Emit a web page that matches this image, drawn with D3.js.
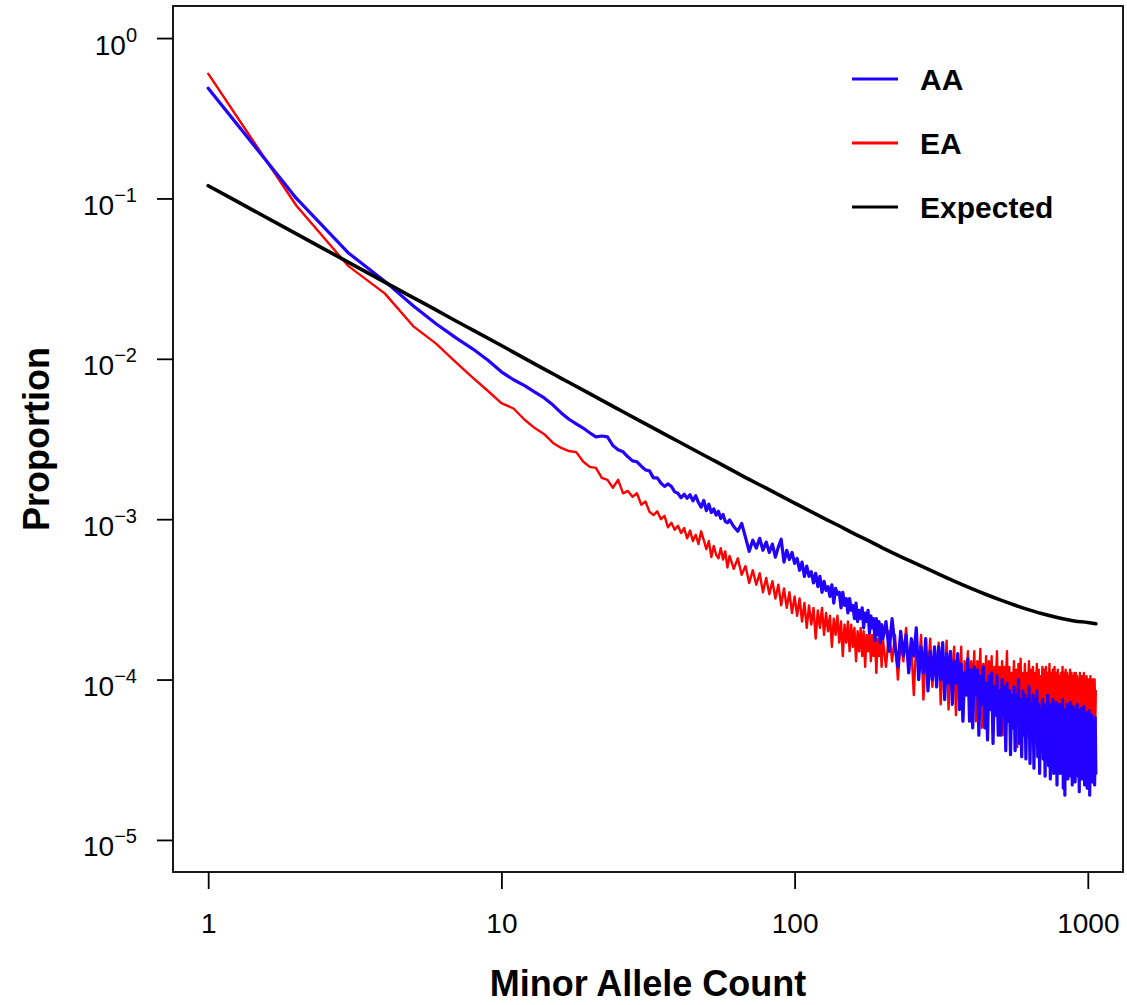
<!DOCTYPE html>
<html>
<head>
<meta charset="utf-8">
<script src="https://cdn.jsdelivr.net/npm/d3@7"></script>
<style>
  body { margin: 0; background: #fff; }
  text { font-family: "Liberation Sans", Arial, Helvetica, sans-serif; }
</style>
</head>
<body>
<div id="chart"></div>
<script>
// minor allele counts: every count to 60, then every 2nd to 200, then every 5th
const counts = [].concat(d3.range(1, 61), d3.range(62, 201, 2), d3.range(205, 1066, 5));

// AA proportions
const aaLow = [0.487, 0.1, 0.0459, 0.0305, 0.0214, 0.0165, 0.0135, 0.0115, 0.0098, 0.0083,
  0.0074, 0.0068, 0.0062, 0.0057, 0.00515, 0.0046, 0.0042, 0.00393, 0.0037, 0.00346,
  0.00326, 0.0033, 0.00326, 0.00288, 0.00271, 0.00263, 0.00245, 0.00231, 0.00228, 0.00214,
  0.00203, 0.002, 0.00181, 0.00181, 0.00168, 0.0016, 0.00166, 0.0016, 0.00148, 0.00145,
  0.00136, 0.00143, 0.00135, 0.00142, 0.0013, 0.0014, 0.00127, 0.00119, 0.00131, 0.00113,
  0.00124, 0.0011, 0.00116, 0.00106, 0.00112, 0.00101, 0.00107, 9.7e-4, 9.5e-4, 9.9e-4];
const aaMid = [9.0e-4, 8.4e-4, 9.4e-4, 7.7e-4, 6.3e-4, 7.4e-4, 6.6e-4, 7.6e-4, 6.4e-4, 7.2e-4,
  6.2e-4, 7.0e-4, 5.8e-4, 6.7e-4, 7.5e-4, 5.4e-4, 6.4e-4, 5.6e-4, 6.2e-4, 5.3e-4,
  5.7e-4, 4.8e-4, 5.4e-4, 4.4e-4, 5.1e-4, 4.4e-4, 4.7e-4, 4.0e-4, 4.6e-4, 3.8e-4,
  4.4e-4, 3.5e-4, 4.1e-4, 3.6e-4, 3.8e-4, 3.3e-4, 3.9e-4, 3.0e-4, 3.7e-4, 3.4e-4,
  3.5e-4, 2.8e-4, 3.5e-4, 2.9e-4, 3.2e-4, 2.6e-4, 3.2e-4, 2.7e-4, 2.9e-4, 2.4e-4,
  3.0e-4, 2.3e-4, 2.7e-4, 2.4e-4, 2.8e-4, 2.1e-4, 2.6e-4, 2.3e-4, 2.7e-4, 1.95e-4,
  2.5e-4, 2.1e-4, 2.4e-4, 1.75e-4, 2.4e-4, 1.9e-4, 2.3e-4, 1.7e-4, 2.2e-4, 1.8e-4];
const aaHigh = [
  2.3e-4, 1.5e-4, 2.4e-4, 1.6e-4, 1.2e-4, 2.0e-4, 1.4e-4, 1.9e-4, 1.1e-4, 1.8e-4,
  1.4e-4, 2.1e-4, 1.0e-4, 1.6e-4, 1.1e-4, 1.8e-4, 8.5e-5, 1.5e-4, 1.0e-4, 1.6e-4,
  9.0e-5, 1.6e-4, 1.0e-4, 1.7e-4, 7.5e-5, 1.45e-4, 9.5e-5, 1.5e-4, 7.0e-5, 1.3e-4,
  9.5e-5, 1.45e-4, 6.5e-5, 1.25e-4, 5.5e-5, 1.1e-4, 8.0e-5, 1.35e-4, 5.5e-5, 1.15e-4,
  5.0e-5, 1.2e-4, 8.0e-5, 1.15e-4, 4.5e-5, 1.05e-4, 7.0e-5, 1.2e-4, 5.0e-5, 9.5e-5,
  4.2e-5, 1.05e-4, 6.5e-5, 1.1e-4, 4.0e-5, 9.0e-5, 6.0e-5, 1.05e-4, 4.5e-5, 8.5e-5,
  4.5e-5, 1.0e-4, 6.0e-5, 9.0e-5, 3.6e-5, 9.5e-5, 5.5e-5, 8.5e-5, 3.4e-5, 8.0e-5,
  5.0e-5, 9.0e-5, 3.6e-5, 8.0e-5, 5.5e-5, 1.0e-4, 4.0e-5, 7.5e-5, 3.3e-5, 8.5e-5,
  4.5e-5, 8.0e-5, 3.2e-5, 7.5e-5, 5.0e-5, 9.0e-5, 3.0e-5, 7.0e-5, 4.4e-5, 8.0e-5,
  2.8e-5, 7.5e-5, 4.5e-5, 8.5e-5, 3.3e-5, 7.0e-5, 2.6e-5, 6.5e-5, 4.2e-5, 7.5e-5,
  3.2e-5, 7.0e-5, 2.5e-5, 6.5e-5, 4.0e-5, 8.0e-5, 2.9e-5, 6.5e-5, 2.4e-5, 7.0e-5,
  3.8e-5, 7.5e-5, 2.6e-5, 6.0e-5, 3.3e-5, 7.2e-5, 2.2e-5, 6.5e-5, 3.5e-5, 7.0e-5,
  2.6e-5, 6.8e-5, 3.2e-5, 7.5e-5, 2.1e-5, 6.0e-5, 1.9e-5, 6.5e-5, 3.0e-5, 7.0e-5,
  2.4e-5, 6.5e-5, 3.4e-5, 7.2e-5, 2.5e-5, 6.0e-5, 2.2e-5, 6.8e-5, 3.0e-5, 6.2e-5,
  2.3e-5, 6.5e-5, 2.8e-5, 7.0e-5, 2.5e-5, 5.8e-5, 2.0e-5, 6.4e-5, 3.1e-5, 6.6e-5,
  2.4e-5, 6.0e-5, 2.9e-5, 6.8e-5, 2.2e-5, 5.5e-5, 2.6e-5, 6.2e-5, 2.1e-5, 5.8e-5,
  2.5e-5, 6.4e-5, 1.9e-5, 5.6e-5, 2.6e-5, 6.0e-5, 2.3e-5, 5.5e-5, 2.5e-5, 5.0e-5,
  2.2e-5, 5.8e-5, 2.6e-5];

// EA proportions
const eaLow = [0.6, 0.09, 0.038, 0.0256, 0.016, 0.0124, 0.0095, 0.0076, 0.0063, 0.0053,
  0.0049, 0.00417, 0.0037, 0.00339, 0.00299, 0.00278, 0.00266, 0.00262, 0.00229, 0.00212,
  0.00209, 0.00181, 0.00176, 0.00157, 0.00176, 0.00145, 0.0015, 0.00138, 0.00145, 0.00123,
  0.00129, 0.00111, 0.00106, 0.00112, 0.001, 0.00105, 8.9e-4, 9.5e-4, 8.6e-4, 9.1e-4,
  8.2e-4, 8.8e-4, 7.6e-4, 8.5e-4, 7.3e-4, 8.0e-4, 7.0e-4, 8.4e-4, 7.4e-4, 6.5e-4,
  7.3e-4, 5.8e-4, 6.8e-4, 6.0e-4, 5.7e-4, 6.6e-4, 5.6e-4, 6.3e-4, 5.0e-4, 5.9e-4];
const eaMid = [4.9e-4, 5.7e-4, 4.5e-4, 5.1e-4, 4.0e-4, 4.8e-4, 3.9e-4, 4.6e-4, 3.5e-4, 4.3e-4,
  3.4e-4, 4.1e-4, 3.2e-4, 3.9e-4, 2.9e-4, 3.7e-4, 2.8e-4, 3.5e-4, 2.6e-4, 3.3e-4,
  2.5e-4, 3.2e-4, 2.3e-4, 3.0e-4, 2.1e-4, 2.9e-4, 2.2e-4, 2.8e-4, 1.8e-4, 2.7e-4,
  2.1e-4, 2.8e-4, 1.9e-4, 2.6e-4, 2.0e-4, 2.5e-4, 1.6e-4, 2.4e-4, 1.9e-4, 2.5e-4,
  1.7e-4, 2.3e-4, 1.4e-4, 2.2e-4, 1.7e-4, 2.3e-4, 1.5e-4, 2.2e-4, 1.6e-4, 2.1e-4,
  1.3e-4, 2.0e-4, 1.5e-4, 2.1e-4, 1.4e-4, 2.0e-4, 1.2e-4, 1.9e-4, 1.5e-4, 2.0e-4,
  1.3e-4, 1.9e-4, 1.4e-4, 1.9e-4, 1.1e-4, 1.8e-4, 1.4e-4, 1.9e-4, 1.2e-4, 1.8e-4];
const eaHigh = [
  1.2e-4, 2.0e-4, 1.3e-4, 1.9e-4, 1.0e-4, 1.7e-4, 1.3e-4, 2.1e-4, 1.1e-4, 1.6e-4,
  8.0e-5, 1.7e-4, 1.2e-4, 1.9e-4, 7.5e-5, 1.5e-4, 1.1e-4, 1.8e-4, 9.0e-5, 1.5e-4,
  1.2e-4, 1.7e-4, 7.0e-5, 1.4e-4, 1.0e-4, 1.75e-4, 6.5e-5, 1.4e-4, 1.1e-4, 1.6e-4,
  6.0e-5, 1.4e-4, 9.5e-5, 1.6e-4, 5.5e-5, 1.3e-4, 1.0e-4, 1.5e-4, 6.5e-5, 1.3e-4,
  9.0e-5, 1.5e-4, 5.5e-5, 1.3e-4, 9.5e-5, 1.55e-4, 5.0e-5, 1.25e-4, 8.5e-5, 1.4e-4,
  5.0e-5, 1.3e-4, 8.5e-5, 1.4e-4, 4.6e-5, 1.2e-4, 9.0e-5, 1.5e-4, 6.0e-5, 1.2e-4,
  8.0e-5, 1.3e-4, 4.5e-5, 1.2e-4, 9.0e-5, 1.5e-4, 5.5e-5, 1.2e-4, 4.0e-5, 1.1e-4,
  8.5e-5, 1.3e-4, 5.0e-5, 1.15e-4, 3.8e-5, 1.25e-4, 8.0e-5, 1.35e-4, 5.0e-5, 1.1e-4,
  7.5e-5, 1.25e-4, 4.2e-5, 1.1e-4, 8.5e-5, 1.3e-4, 4.6e-5, 1.15e-4, 7.0e-5, 1.2e-4,
  4.0e-5, 1.1e-4, 8.0e-5, 1.25e-4, 5.0e-5, 1.15e-4, 3.6e-5, 1.05e-4, 7.5e-5, 1.2e-4,
  4.5e-5, 1.15e-4, 7.0e-5, 1.2e-4, 3.4e-5, 1.1e-4, 7.8e-5, 1.25e-4, 4.8e-5, 1.1e-4,
  3.2e-5, 1.15e-4, 7.5e-5, 1.2e-4, 5.0e-5, 1.1e-4, 3.8e-5, 1.15e-4, 7.0e-5, 1.05e-4,
  4.2e-5, 1.1e-4, 6.5e-5, 1.2e-4, 3.0e-5, 1.1e-4, 7.2e-5, 1.15e-4, 4.6e-5, 1.1e-4,
  2.6e-5, 1.05e-4, 6.8e-5, 1.15e-4, 4.4e-5, 1.1e-4, 3.0e-5, 1.05e-4, 6.5e-5, 1.1e-4,
  4.0e-5, 1.1e-4, 6.2e-5, 1.05e-4, 2.5e-5, 1.0e-4, 5.5e-5, 1.1e-4, 3.6e-5, 1.05e-4,
  6.0e-5, 1.05e-4, 3.4e-5, 1.1e-4, 5.2e-5, 1.0e-4, 4.2e-5, 1.05e-4, 6.0e-5, 1.0e-4,
  3.4e-5, 1.0e-4, 5.5e-5, 1.05e-4, 4.0e-5, 9.5e-5, 5.0e-5, 1.0e-4, 4.6e-5, 7.5e-5,
  1.0e-4, 5.0e-5, 8.5e-5];

// expected (neutral) curve
const expCounts = [1, 2, 3, 4, 5, 6, 7, 8, 10, 12, 14, 16, 20, 25, 30, 35, 40, 50, 60, 70,
  80, 100, 120, 140, 160, 180, 200, 250, 300, 350, 400, 450, 500, 600, 700, 800, 900, 1000, 1065];
const expValues = [0.12, 0.0601, 0.0401, 0.0301, 0.0241, 0.0201, 0.0172, 0.0151, 0.0121, 0.01006,
  0.00863, 0.00756, 0.00606, 0.00486, 0.00406, 0.00349, 0.00306, 0.00246, 0.00206, 0.00177,
  0.00156, 0.00126, 0.00106, 9.2e-4, 8.1e-4, 7.3e-4, 6.6e-4, 5.45e-4, 4.67e-4, 4.11e-4,
  3.7e-4, 3.39e-4, 3.15e-4, 2.8e-4, 2.57e-4, 2.42e-4, 2.32e-4, 2.27e-4, 2.23e-4];

const xTicks = [1, 10, 100, 1000];
const yTicks = [1, 1e-1, 1e-2, 1e-3, 1e-4, 1e-5];
const yExponents = ["0", "\u22121", "\u22122", "\u22123", "\u22124", "\u22125"];

const legendNames = ["AA", "EA", "Expected"];
const legendColors = ["#2200ff", "#ff0000", "#000000"];

// layout
const width = 1127, height = 1005;
const box = {left: 173, right: 1123, top: 6, bottom: 872};

const aa = aaLow.concat(aaMid, aaHigh).map((v, i) => ({x: counts[i], y: v}));
const ea = eaLow.concat(eaMid, eaHigh).map((v, i) => ({x: counts[i], y: v}));
const expected = expValues.map((v, i) => ({x: expCounts[i], y: v}));

const x = d3.scaleLog()
  .domain([Math.pow(10, -0.12), Math.pow(10, 3.12)])
  .range([box.left, box.right]);
const y = d3.scaleLog()
  .domain([Math.pow(10, -5.2), Math.pow(10, 0.2)])
  .range([box.bottom, box.top]);

const svg = d3.select("#chart")
  .append("svg")
  .attr("width", width)
  .attr("height", height);

svg.append("clipPath").attr("id", "plotclip")
  .append("rect")
  .attr("x", box.left).attr("y", box.top)
  .attr("width", box.right - box.left).attr("height", box.bottom - box.top);

const line = d3.line().x(d => x(d.x)).y(d => y(d.y));

const plot = svg.append("g").attr("clip-path", "url(#plotclip)")
  .attr("fill", "none")
  .attr("stroke-linejoin", "round")
  .attr("stroke-linecap", "round");

plot.append("path").datum(ea)
  .attr("d", line)
  .attr("stroke", legendColors[1])
  .attr("stroke-width", 2.4);

plot.append("path").datum(aa)
  .attr("d", line)
  .attr("stroke", legendColors[0])
  .attr("stroke-width", 3.2);

plot.append("path").datum(expected)
  .attr("d", line.curve(d3.curveMonotoneX))
  .attr("stroke", legendColors[2])
  .attr("stroke-width", 3.6);

// frame
svg.append("rect")
  .attr("x", box.left).attr("y", box.top)
  .attr("width", box.right - box.left).attr("height", box.bottom - box.top)
  .attr("fill", "none").attr("stroke", "#000").attr("stroke-width", 1.8);

// x axis
const xAxis = svg.append("g")
  .attr("transform", `translate(0,${box.bottom})`)
  .call(d3.axisBottom(x).tickValues(xTicks).tickSize(17).tickFormat(d3.format("d")));
xAxis.select(".domain").remove();
xAxis.selectAll(".tick line").attr("stroke-width", 1.8);
xAxis.selectAll(".tick text")
  .attr("y", 61).attr("dy", null)
  .attr("font-size", 28)
  .attr("font-family", "Liberation Sans, Arial, Helvetica, sans-serif")
  .attr("fill", "#000");

// y axis with superscript exponents
const yAxis = svg.append("g")
  .attr("transform", `translate(${box.left},0)`)
  .call(d3.axisLeft(y).tickValues(yTicks).tickSize(16).tickFormat(""));
yAxis.select(".domain").remove();
yAxis.selectAll(".tick line").attr("stroke-width", 1.8);
yAxis.selectAll(".tick text")
  .attr("x", -36).attr("y", 16).attr("dy", null)
  .attr("text-anchor", "end")
  .attr("font-family", "Liberation Sans, Arial, Helvetica, sans-serif")
  .attr("fill", "#000")
  .each(function(d, i) {
    const t = d3.select(this);
    t.append("tspan").attr("font-size", 28).text("10");
    t.append("tspan").attr("font-size", 20).attr("dy", -13).text(yExponents[i]);
  });

// axis titles
svg.append("text")
  .attr("x", (box.left + box.right) / 2)
  .attr("y", 996)
  .attr("text-anchor", "middle")
  .attr("font-size", 36)
  .attr("font-weight", "bold")
  .text("Minor Allele Count");

svg.append("text")
  .attr("transform", `translate(49,${(box.top + box.bottom) / 2}) rotate(-90)`)
  .attr("text-anchor", "middle")
  .attr("font-size", 36)
  .attr("font-weight", "bold")
  .text("Proportion");

// legend
const legend = svg.append("g")
  .selectAll("g")
  .data(legendNames)
  .join("g")
  .attr("transform", (d, i) => `translate(852,${79 + i * 64})`);

legend.append("line")
  .attr("x1", 0).attr("x2", 46)
  .attr("stroke", (d, i) => legendColors[i])
  .attr("stroke-width", 3);

legend.append("text")
  .attr("x", 68).attr("y", 11)
  .attr("font-size", 30)
  .attr("font-weight", "bold")
  .text(d => d);
</script>
</body>
</html>
